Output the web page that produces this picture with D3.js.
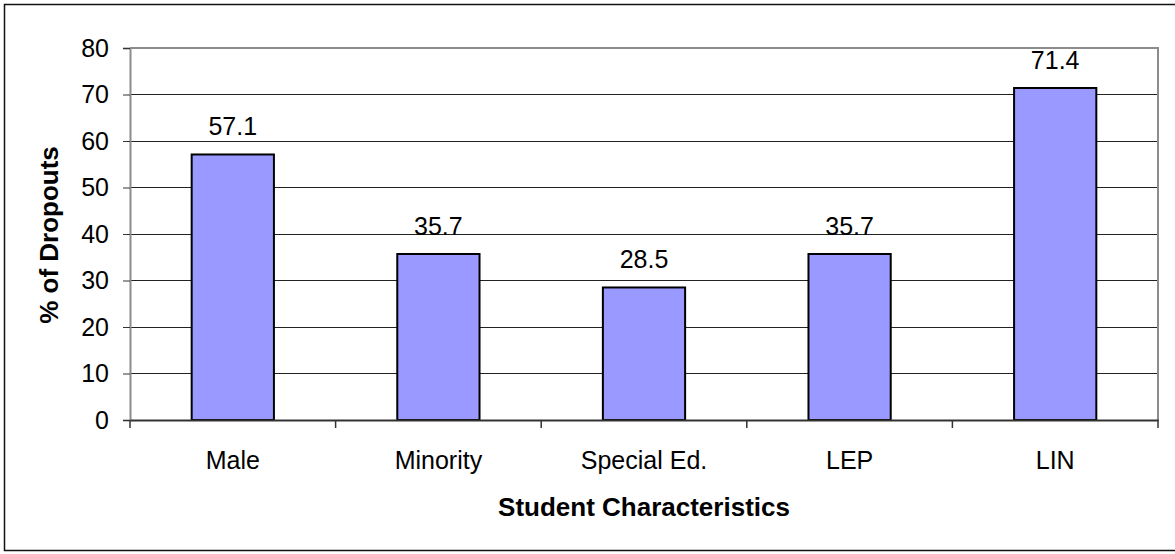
<!DOCTYPE html>
<html>
<head>
<meta charset="utf-8">
<script src="https://cdn.jsdelivr.net/npm/d3@7"></script>
<style>
  html, body { margin: 0; padding: 0; background: #fff; }
  svg { display: block; font-family: "Liberation Sans", Arial, sans-serif; }
</style>
</head>
<body>
<svg id="chart" width="1175" height="554"></svg>
<script>
const categories = ["Male", "Minority", "Special Ed.", "LEP", "LIN"];
const values = [57.1, 35.7, 28.5, 35.7, 71.4];
const yTicks = [0, 10, 20, 30, 40, 50, 60, 70, 80];
const xTitle = "Student Characteristics";
const yTitle = "% of Dropouts";

const svg = d3.select("#chart");
const W = 1175, H = 554;
const plot = { left: 130, right: 1158, top: 48, bottom: 420 };

// outer frame
svg.append("rect")
  .attr("x", 4.5).attr("y", 4.5)
  .attr("width", W + 10).attr("height", 546)
  .attr("fill", "#fff").attr("stroke", "#111").attr("stroke-width", 1.5);

const x = d3.scaleBand().domain(categories).range([plot.left, plot.right]).padding(0);
const y = d3.scaleLinear().domain([0, 80]).range([plot.bottom, plot.top]);

// gridlines
svg.append("g").selectAll("line")
  .data(yTicks.filter(t => t > 0 && t < 80))
  .join("line")
  .attr("x1", plot.left).attr("x2", plot.right)
  .attr("y1", d => y(d)).attr("y2", d => y(d))
  .attr("stroke", "#222").attr("stroke-width", 1)
  .attr("shape-rendering", "crispEdges");

// plot border (top and right)
svg.append("path")
  .attr("d", `M${plot.left},${y(80)}H${plot.right}V${plot.bottom}`)
  .attr("fill", "none").attr("stroke", "#8c8c8c").attr("stroke-width", 2);

// bars
const barFrac = 0.4;
svg.append("g").selectAll("rect")
  .data(values)
  .join("rect")
  .attr("x", (d, i) => x(categories[i]) + x.bandwidth() * (1 - barFrac) / 2)
  .attr("width", x.bandwidth() * barFrac)
  .attr("y", d => y(d))
  .attr("height", d => y(0) - y(d))
  .attr("fill", "#9999FF").attr("stroke", "#000").attr("stroke-width", 2);

// data labels
svg.append("g").selectAll("text")
  .data(values)
  .join("text")
  .attr("x", (d, i) => x(categories[i]) + x.bandwidth() / 2)
  .attr("y", d => y(d) - 19)
  .attr("text-anchor", "middle")
  .attr("font-size", 25)
  .attr("fill", "#000")
  .text(d => d.toFixed(1));

// y axis
const yAxis = d3.axisLeft(y).tickValues(yTicks).tickSize(7).tickPadding(14);
const gy = svg.append("g").attr("transform", `translate(${plot.left},0)`).call(yAxis);
gy.select(".domain").attr("stroke", "#8c8c8c").attr("stroke-width", 2);
gy.selectAll(".tick line").attr("stroke", "#333");
gy.selectAll(".tick text").attr("font-size", 25).attr("fill", "#000")
  .attr("font-family", "'Liberation Sans', Arial, sans-serif");

// x axis
const xAxis = d3.axisBottom(x).tickSize(0).tickPadding(0);
const gx = svg.append("g").attr("transform", `translate(0,${plot.bottom})`).call(xAxis);
gx.select(".domain").attr("stroke", "#333").attr("stroke-width", 2);
gx.selectAll(".tick text").attr("font-size", 25).attr("fill", "#000")
  .attr("dy", null).attr("y", 49)
  .attr("font-family", "'Liberation Sans', Arial, sans-serif");
// category boundary ticks
const bounds = categories.map(c => x(c)).concat([plot.right]);
gx.append("g").selectAll("line")
  .data(bounds)
  .join("line")
  .attr("x1", d => d).attr("x2", d => d)
  .attr("y1", 0).attr("y2", 8)
  .attr("stroke", "#333").attr("stroke-width", 1.5);

// axis titles
svg.append("text")
  .attr("x", (plot.left + plot.right) / 2)
  .attr("y", 516)
  .attr("text-anchor", "middle")
  .attr("font-size", 26).attr("font-weight", "bold")
  .text(xTitle);

svg.append("text")
  .attr("transform", `translate(58,${235}) rotate(-90)`)
  .attr("text-anchor", "middle")
  .attr("font-size", 26).attr("font-weight", "bold")
  .text(yTitle);
</script>
</body>
</html>
